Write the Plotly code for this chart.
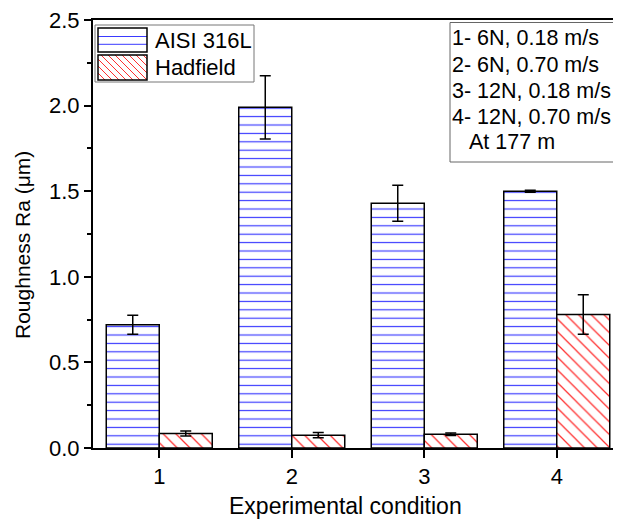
import plotly.graph_objects as go

conditions = [1, 2, 3, 4]
aisi_values = [0.72, 1.99, 1.43, 1.50]
aisi_errors = [0.055, 0.185, 0.105, 0.006]
hadfield_values = [0.085, 0.075, 0.08, 0.78]
hadfield_errors = [0.015, 0.015, 0.007, 0.115]
y_ticks = [0.0, 0.5, 1.0, 1.5, 2.0, 2.5]
series_names = ["AISI 316L", "Hadfield"]
condition_notes = ["1- 6N, 0.18 m/s", "2- 6N, 0.70 m/s", "3- 12N, 0.18 m/s",
                   "4- 12N, 0.70 m/s", "At 177 m"]

FONT = "Liberation Sans, Arial, sans-serif"
BLUE = "#3a3aff"
RED = "#ff3030"

# page body has an 8px margin: figure is sized/positioned to compensate
OFF = 8
W, H = 621 - OFF, 521 - OFF
ML, MT = 93 - OFF, 20 - OFF
MB = H - (448 - OFF)
MR = 0
PW, PH = W - ML - MR, H - MT - MB


def px(x):
    return (x - OFF - ML) / PW


def py(y):
    return (H - MB - (y - OFF)) / PH


fig = go.Figure()
fig.add_trace(go.Bar(
    x=conditions, y=aisi_values, name=series_names[0], showlegend=False,
    marker=dict(color="white", line=dict(color="black", width=1.5),
                pattern=dict(shape="-", fgcolor=BLUE, bgcolor="white", size=8.4,
                             solidity=0.14, fillmode="replace", fgopacity=1)),
    error_y=dict(type="data", array=aisi_errors, color="black", thickness=1.5, width=5.5),
))
fig.add_trace(go.Bar(
    x=conditions, y=hadfield_values, name=series_names[1], showlegend=False,
    marker=dict(color="white", line=dict(color="black", width=1.5),
                pattern=dict(shape="\\", fgcolor=RED, bgcolor="white", size=9,
                             solidity=0.14, fillmode="replace", fgopacity=1)),
    error_y=dict(type="data", array=hadfield_errors, color="black", thickness=1.5, width=5.5),
))

shapes = []
# legend box
shapes.append(dict(type="rect", xref="paper", yref="paper",
                   x0=px(95), x1=px(254), y0=py(82), y1=py(25),
                   line=dict(color="#777777", width=1), fillcolor="white", layer="above"))
sx0, sx1 = 98, 147
s1y0, s1y1 = 28, 52
s2y0, s2y1 = 55, 80
for yy in [36.5, 44.3]:
    shapes.append(dict(type="line", xref="paper", yref="paper",
                       x0=px(sx0), x1=px(sx1), y0=py(yy), y1=py(yy),
                       line=dict(color=BLUE, width=1), layer="above"))
shapes.append(dict(type="rect", xref="paper", yref="paper",
                   x0=px(sx0), x1=px(sx1), y0=py(s1y1), y1=py(s1y0),
                   line=dict(color="black", width=1.5), layer="above"))
hgt = s2y1 - s2y0
c = sx0 - hgt
while c < sx1:
    ya, yb = s2y0, s2y1
    xa, xb = c, c + hgt
    if xa < sx0:
        ya = s2y0 + (sx0 - c)
        xa = sx0
    if xb > sx1:
        yb = s2y0 + (sx1 - c)
        xb = sx1
    if xb > xa:
        shapes.append(dict(type="line", xref="paper", yref="paper",
                           x0=px(xa), x1=px(xb), y0=py(ya), y1=py(yb),
                           line=dict(color=RED, width=1), layer="above"))
    c += 7
shapes.append(dict(type="rect", xref="paper", yref="paper",
                   x0=px(sx0), x1=px(sx1), y0=py(s2y1), y1=py(s2y0),
                   line=dict(color="black", width=1.5), layer="above"))

# condition notes box
shapes.append(dict(type="rect", xref="paper", yref="paper",
                   x0=px(450), x1=px(619.5), y0=py(162), y1=py(22.5),
                   line=dict(color="#666666", width=1), fillcolor="white", layer="above"))

annotations = [
    dict(xref="paper", yref="paper", x=px(153), y=py(40), xanchor="left", yanchor="middle",
         text=series_names[0], showarrow=False, font=dict(size=22, family=FONT)),
    dict(xref="paper", yref="paper", x=px(153), y=py(67.5), xanchor="left", yanchor="middle",
         text=series_names[1], showarrow=False, font=dict(size=22, family=FONT)),
    dict(xref="paper", yref="paper", x=px(345), y=py(506), xanchor="center", yanchor="middle",
         text="Experimental condition", showarrow=False, font=dict(size=23, family=FONT)),
    dict(xref="paper", yref="paper", x=px(22), y=py(245), xanchor="center", yanchor="middle",
         text="Roughness Ra (μm)", textangle=-90, showarrow=False, font=dict(size=21, family=FONT)),
]
note_y = [38.3, 65.0, 91.5, 116.7, 141.7]
note_x = [450, 450, 450, 450, 467]
for t, xx, yy in zip(condition_notes, note_x, note_y):
    annotations.append(dict(xref="paper", yref="paper", x=px(xx), y=py(yy),
                            xanchor="left", yanchor="middle", text=t, showarrow=False,
                            font=dict(size=21.5, family=FONT)))

fig.update_layout(
    width=W, height=H,
    margin=dict(l=ML, r=MR, t=MT, b=MB),
    paper_bgcolor="white", plot_bgcolor="white",
    barmode="group", bargap=0.2, bargroupgap=0,
    font=dict(family=FONT, size=22, color="black"),
    showlegend=False,
    shapes=shapes, annotations=annotations,
)
fig.update_xaxes(
    range=[0.5, 0.5 + PW / 132.5], tickvals=conditions, ticktext=[str(c) for c in conditions],
    ticks="outside", ticklen=8, tickwidth=1.5, tickcolor="black",
    showline=True, linecolor="black", linewidth=2, mirror=True,
    showgrid=False, zeroline=False, automargin=False, tickfont=dict(size=22),
    ticklabeloverflow="allow",
)
fig.update_yaxes(
    range=[0, 2.5], tickvals=y_ticks, ticktext=[f"{v:.1f}" for v in y_ticks],
    ticks="outside", ticklen=7, tickwidth=1.5, tickcolor="black",
    minor=dict(dtick=0.25, ticks="outside", ticklen=4, tickcolor="black", tickwidth=1.5),
    showline=True, linecolor="black", linewidth=2, mirror=False,
    showgrid=False, zeroline=False, automargin=False, tickfont=dict(size=22),
    ticklabeloverflow="allow",
)

fig.write_html("out.html")
